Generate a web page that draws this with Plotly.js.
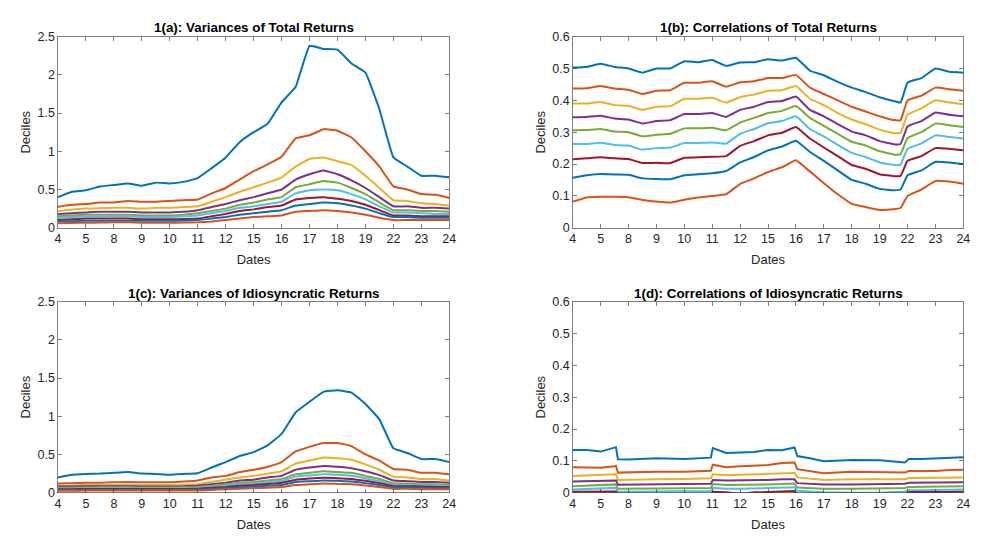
<!DOCTYPE html>
<html>
<head>
<meta charset="utf-8">
<script src="https://cdn.plot.ly/plotly-3.0.1.min.js"></script>
<style>html,body{margin:0;padding:0;background:#fff;}#chart{width:981px;height:549px;}</style>
</head>
<body>
<div id="chart"></div>
<script>
// Tick labels (dates) at equally spaced positions 0..14
const tickLabels = ['4','5','8','9','10','11','12','15','16','17','18','19','22','23','24'];
const tickPos = [0,1,2,3,4,5,6,7,8,9,10,11,12,13,14];

// x grids
const xAC = [0,0.5,1,1.5,2,2.5,3,3.5,4,4.5,5,5.5,6,6.5,7,7.5,8,8.5,9,9.5,10,10.5,11,11.5,12,12.5,13,13.5,14];
const xB = [0,0.5,1,1.5,2,2.5,3,3.5,4,4.5,5,5.5,6,6.5,7,7.5,8,8.5,9,9.5,10,10.5,11,11.5,11.75,12,12.5,13,13.5,14];
const xD = [0,0.5,1,1.5,1.55,1.62,2,3,4,4.95,5.02,5.5,6,6.5,7,7.5,7.95,8.05,8.5,9,10,11,11.9,12.05,12.5,13,13.5,14];

// 1(a): Variances of Total Returns
const a1 = [0.40,0.47,0.49,0.54,0.56,0.58,0.55,0.59,0.58,0.60,0.65,0.78,0.92,1.12,1.25,1.36,1.64,1.84,2.38,2.34,2.33,2.15,2.03,1.55,0.92,0.80,0.68,0.68,0.66];
const a2 = [0.275,0.30,0.31,0.33,0.33,0.35,0.34,0.34,0.35,0.36,0.37,0.45,0.52,0.63,0.74,0.83,0.93,1.17,1.21,1.29,1.27,1.18,1.00,0.80,0.54,0.50,0.44,0.43,0.39];
const a3 = [0.22,0.24,0.25,0.255,0.26,0.26,0.25,0.26,0.26,0.27,0.28,0.34,0.40,0.47,0.53,0.59,0.66,0.80,0.90,0.92,0.87,0.82,0.68,0.52,0.36,0.35,0.32,0.31,0.29];
const a4 = [0.18,0.19,0.20,0.21,0.21,0.21,0.20,0.20,0.20,0.21,0.23,0.27,0.31,0.36,0.40,0.45,0.50,0.63,0.70,0.75,0.70,0.62,0.52,0.40,0.28,0.28,0.26,0.26,0.25];
const a5 = [0.15,0.16,0.17,0.17,0.17,0.17,0.16,0.16,0.16,0.17,0.19,0.22,0.25,0.30,0.33,0.37,0.40,0.53,0.57,0.61,0.59,0.52,0.44,0.33,0.23,0.23,0.22,0.22,0.21];
const a6 = [0.13,0.14,0.15,0.15,0.15,0.15,0.14,0.14,0.14,0.15,0.16,0.19,0.22,0.26,0.28,0.31,0.34,0.45,0.49,0.50,0.49,0.44,0.37,0.28,0.20,0.20,0.19,0.18,0.18];
const a7 = [0.10,0.11,0.12,0.12,0.12,0.12,0.11,0.11,0.11,0.115,0.12,0.15,0.18,0.22,0.24,0.27,0.29,0.37,0.39,0.40,0.38,0.35,0.30,0.23,0.16,0.16,0.15,0.15,0.15];
const a8 = [0.08,0.085,0.09,0.09,0.09,0.09,0.09,0.09,0.09,0.095,0.10,0.12,0.14,0.17,0.19,0.21,0.23,0.29,0.31,0.33,0.32,0.29,0.25,0.19,0.14,0.14,0.13,0.13,0.13];
const a9 = [0.06,0.062,0.065,0.068,0.07,0.07,0.065,0.065,0.065,0.068,0.07,0.08,0.10,0.12,0.14,0.15,0.16,0.21,0.22,0.23,0.22,0.20,0.17,0.13,0.10,0.10,0.10,0.10,0.10];

// 1(b): Correlations of Total Returns
const b1 = [0.503,0.505,0.515,0.505,0.50,0.487,0.50,0.50,0.523,0.52,0.527,0.508,0.519,0.52,0.529,0.525,0.534,0.493,0.479,0.458,0.44,0.426,0.41,0.398,0.393,0.456,0.47,0.50,0.49,0.487];
const b2 = [0.437,0.438,0.445,0.437,0.433,0.42,0.43,0.432,0.455,0.455,0.46,0.443,0.457,0.46,0.47,0.47,0.48,0.44,0.42,0.40,0.38,0.365,0.35,0.338,0.338,0.40,0.415,0.44,0.435,0.43];
const b3 = [0.39,0.39,0.395,0.385,0.383,0.37,0.38,0.382,0.405,0.405,0.408,0.393,0.41,0.418,0.43,0.432,0.445,0.405,0.385,0.36,0.34,0.325,0.308,0.297,0.298,0.355,0.375,0.40,0.393,0.388];
const b4 = [0.347,0.348,0.352,0.343,0.34,0.327,0.335,0.338,0.357,0.357,0.36,0.348,0.37,0.38,0.395,0.398,0.412,0.37,0.35,0.325,0.302,0.29,0.272,0.262,0.263,0.318,0.335,0.362,0.355,0.35];
const b5 = [0.306,0.307,0.31,0.302,0.30,0.287,0.292,0.295,0.312,0.312,0.314,0.306,0.33,0.345,0.36,0.367,0.382,0.345,0.32,0.295,0.27,0.258,0.24,0.23,0.231,0.282,0.30,0.327,0.322,0.316];
const b6 = [0.263,0.263,0.267,0.26,0.258,0.245,0.25,0.252,0.266,0.266,0.268,0.264,0.295,0.31,0.328,0.335,0.35,0.31,0.287,0.26,0.235,0.222,0.205,0.197,0.198,0.248,0.265,0.29,0.285,0.28];
const b7 = [0.215,0.218,0.221,0.218,0.216,0.203,0.204,0.203,0.22,0.221,0.223,0.225,0.257,0.272,0.29,0.298,0.316,0.28,0.252,0.225,0.197,0.185,0.168,0.162,0.163,0.21,0.225,0.25,0.248,0.243];
const b8 = [0.157,0.165,0.169,0.167,0.166,0.155,0.153,0.152,0.165,0.168,0.171,0.178,0.205,0.222,0.243,0.255,0.273,0.238,0.21,0.18,0.15,0.138,0.122,0.118,0.12,0.165,0.18,0.207,0.205,0.20];
const b9 = [0.082,0.095,0.097,0.097,0.096,0.087,0.082,0.079,0.088,0.095,0.10,0.105,0.138,0.155,0.175,0.19,0.212,0.177,0.14,0.105,0.075,0.065,0.056,0.058,0.062,0.10,0.12,0.147,0.145,0.138];

// 1(c): Variances of Idiosyncratic Returns
const c1 = [0.20,0.235,0.245,0.25,0.26,0.27,0.25,0.245,0.235,0.245,0.255,0.33,0.40,0.48,0.53,0.62,0.77,1.05,1.19,1.32,1.34,1.31,1.16,0.96,0.58,0.52,0.44,0.44,0.40];
const c2 = [0.12,0.125,0.13,0.13,0.135,0.14,0.135,0.135,0.135,0.145,0.16,0.20,0.22,0.27,0.30,0.34,0.40,0.54,0.60,0.65,0.65,0.61,0.50,0.42,0.31,0.30,0.26,0.26,0.24];
const c3 = [0.09,0.095,0.10,0.10,0.10,0.10,0.10,0.10,0.10,0.105,0.11,0.14,0.17,0.20,0.22,0.25,0.28,0.38,0.42,0.46,0.45,0.43,0.37,0.30,0.21,0.20,0.18,0.18,0.16];
const c4 = [0.08,0.08,0.085,0.085,0.085,0.085,0.08,0.08,0.08,0.085,0.09,0.11,0.13,0.16,0.17,0.20,0.22,0.30,0.33,0.35,0.34,0.32,0.28,0.23,0.16,0.15,0.14,0.14,0.13];
const c5 = [0.065,0.066,0.068,0.07,0.07,0.07,0.068,0.068,0.068,0.07,0.075,0.09,0.11,0.13,0.14,0.16,0.18,0.24,0.26,0.28,0.27,0.26,0.22,0.18,0.12,0.12,0.11,0.11,0.10];
const c6 = [0.055,0.056,0.058,0.06,0.06,0.06,0.058,0.058,0.058,0.06,0.065,0.08,0.095,0.11,0.12,0.14,0.155,0.21,0.225,0.24,0.235,0.22,0.19,0.15,0.10,0.10,0.095,0.09,0.09];
const c7 = [0.045,0.046,0.047,0.048,0.048,0.048,0.047,0.047,0.047,0.048,0.05,0.065,0.075,0.09,0.10,0.115,0.13,0.17,0.185,0.195,0.19,0.18,0.155,0.125,0.085,0.085,0.08,0.075,0.075];
const c8 = [0.035,0.036,0.037,0.038,0.038,0.038,0.037,0.037,0.037,0.038,0.04,0.05,0.06,0.07,0.08,0.09,0.10,0.14,0.15,0.16,0.155,0.145,0.125,0.10,0.07,0.07,0.065,0.06,0.06];
const c9 = [0.025,0.026,0.027,0.028,0.028,0.028,0.027,0.027,0.027,0.028,0.03,0.035,0.045,0.05,0.06,0.065,0.075,0.10,0.11,0.12,0.115,0.11,0.095,0.075,0.05,0.05,0.045,0.045,0.045];

// 1(d): Correlations of Idiosyncratic Returns
const d1 = [0.134,0.134,0.129,0.140,0.143,0.105,0.104,0.108,0.106,0.110,0.140,0.125,0.126,0.128,0.134,0.133,0.142,0.115,0.108,0.099,0.103,0.102,0.095,0.106,0.106,0.107,0.108,0.111];
const d2 = [0.080,0.080,0.078,0.083,0.084,0.063,0.064,0.066,0.066,0.069,0.088,0.080,0.083,0.085,0.087,0.093,0.095,0.074,0.068,0.061,0.066,0.065,0.063,0.068,0.068,0.068,0.071,0.072];
const d3 = [0.052,0.054,0.056,0.057,0.058,0.040,0.040,0.042,0.043,0.045,0.058,0.055,0.056,0.058,0.059,0.061,0.062,0.048,0.044,0.040,0.042,0.042,0.042,0.046,0.046,0.046,0.048,0.048];
const d4 = [0.035,0.036,0.037,0.037,0.038,0.025,0.025,0.026,0.027,0.028,0.040,0.038,0.038,0.039,0.040,0.042,0.042,0.030,0.028,0.026,0.026,0.027,0.028,0.031,0.031,0.031,0.032,0.033];
const d5 = [0.020,0.022,0.023,0.025,0.026,0.012,0.012,0.013,0.014,0.015,0.027,0.024,0.024,0.025,0.026,0.027,0.029,0.016,0.014,0.012,0.012,0.013,0.015,0.018,0.018,0.019,0.019,0.020];
const d6 = [0.010,0.011,0.012,0.014,0.015,0.003,0.003,0.004,0.004,0.005,0.015,0.012,0.012,0.013,0.014,0.015,0.017,0.006,0.004,0.001,0.000,0.000,0.004,0.008,0.008,0.009,0.010,0.010];
const d7 = [0.003,0.003,0.003,0.004,0.004,-0.010,-0.010,-0.009,-0.009,-0.008,0.003,0.001,-0.004,0.001,0.002,0.004,0.005,-0.008,-0.010,-0.012,-0.012,-0.010,-0.007,0.002,0.002,0.000,0.002,0.003];
const d8 = [-0.020,-0.020,-0.019,-0.018,-0.018,-0.030,-0.030,-0.029,-0.029,-0.028,-0.018,-0.019,-0.020,-0.019,-0.018,-0.017,-0.016,-0.028,-0.030,-0.032,-0.032,-0.031,-0.028,-0.020,-0.020,-0.021,-0.020,-0.019];
const d9 = [-0.045,-0.045,-0.044,-0.043,-0.043,-0.055,-0.055,-0.054,-0.054,-0.053,-0.043,-0.044,-0.045,-0.044,-0.043,-0.042,-0.041,-0.053,-0.055,-0.057,-0.057,-0.056,-0.053,-0.045,-0.045,-0.046,-0.045,-0.044];

const colors = ['#0072BD','#D95319','#EDB120','#7E2F8E','#77AC30','#4DBEEE','#A2142F','#0072BD','#D95319'];

const panels = [
  {x: xAC, ys: [a1,a2,a3,a4,a5,a6,a7,a8,a9], xa: 'x', ya: 'y', shape: 'spline'},
  {x: xB,  ys: [b1,b2,b3,b4,b5,b6,b7,b8,b9], xa: 'x2', ya: 'y2', shape: 'spline'},
  {x: xAC, ys: [c1,c2,c3,c4,c5,c6,c7,c8,c9], xa: 'x3', ya: 'y3', shape: 'spline'},
  {x: xD,  ys: [d1,d2,d3,d4,d5,d6,d7,d8,d9], xa: 'x4', ya: 'y4', shape: 'linear'}
];

const traces = [];
panels.forEach(p => {
  p.ys.forEach((y, i) => {
    traces.push({
      x: p.x, y: y, xaxis: p.xa, yaxis: p.ya,
      type: 'scatter', mode: 'lines',
      line: {color: colors[i], width: 2, shape: p.shape, smoothing: 0.3},
      showlegend: false, hoverinfo: 'skip'
    });
  });
});

const axCol = '#262626';
const tickFont = {family: 'Liberation Sans, Arial, sans-serif', size: 12.5, color: axCol};
const titleFont = {family: 'Liberation Sans, Arial, sans-serif', size: 13, color: axCol};

function xAxis(dom, anchor) {
  return {
    domain: dom, anchor: anchor, range: [0, 14],
    tickmode: 'array', tickvals: tickPos, ticktext: tickLabels,
    ticks: 'inside', ticklen: 4, tickwidth: 0.6, tickcolor: axCol,
    showline: true, linecolor: axCol, linewidth: 0.6, mirror: 'ticks',
    showgrid: false, zeroline: false, tickfont: tickFont,
    title: {text: 'Dates', font: titleFont, standoff: 9}
  };
}
function yAxis(dom, anchor, rmax, dt) {
  return {
    domain: dom, anchor: anchor, range: [0, rmax], dtick: dt, tick0: 0,
    ticks: 'inside', ticklen: 4, tickwidth: 0.6, tickcolor: axCol,
    showline: true, linecolor: axCol, linewidth: 0.6, mirror: 'ticks',
    showgrid: false, zeroline: false, tickfont: tickFont,
    title: {text: 'Deciles', font: titleFont, standoff: 3}
  };
}

const xL = [0.0591, 0.4580], xR = [0.5838, 0.9820];
const yT = [0.5852, 0.9332], yBm = [0.1026, 0.4505];

const tFont = {family: 'Liberation Sans, Arial, sans-serif', size: 13.4, color: '#000'};
const annotations = [
  {text: '<b>1(a): Variances of Total Returns</b>', x: (xL[0]+xL[1])/2, y: 1-28/549},
  {text: '<b>1(b): Correlations of Total Returns</b>', x: (xR[0]+xR[1])/2, y: 1-28/549},
  {text: '<b>1(c): Variances of Idiosyncratic Returns</b>', x: (xL[0]+xL[1])/2, y: 1-293/549},
  {text: '<b>1(d): Correlations of Idiosyncratic Returns</b>', x: (xR[0]+xR[1])/2, y: 1-293/549}
].map(a => Object.assign(a, {xref: 'paper', yref: 'paper', showarrow: false, xanchor: 'center', yanchor: 'middle', font: tFont}));

const layout = {
  width: 981, height: 549,
  margin: {l: 0, r: 0, t: 0, b: 0},
  paper_bgcolor: '#fff', plot_bgcolor: '#fff',
  showlegend: false,
  xaxis: xAxis(xL, 'y'), yaxis: yAxis(yT, 'x', 2.5, 0.5),
  xaxis2: xAxis(xR, 'y2'), yaxis2: yAxis(yT, 'x2', 0.6, 0.1),
  xaxis3: xAxis(xL, 'y3'), yaxis3: yAxis(yBm, 'x3', 2.5, 0.5),
  xaxis4: xAxis(xR, 'y4'), yaxis4: yAxis(yBm, 'x4', 0.6, 0.1),
  annotations: annotations
};

Plotly.newPlot('chart', traces, layout, {displayModeBar: false, staticPlot: true});
</script>
</body>
</html>
